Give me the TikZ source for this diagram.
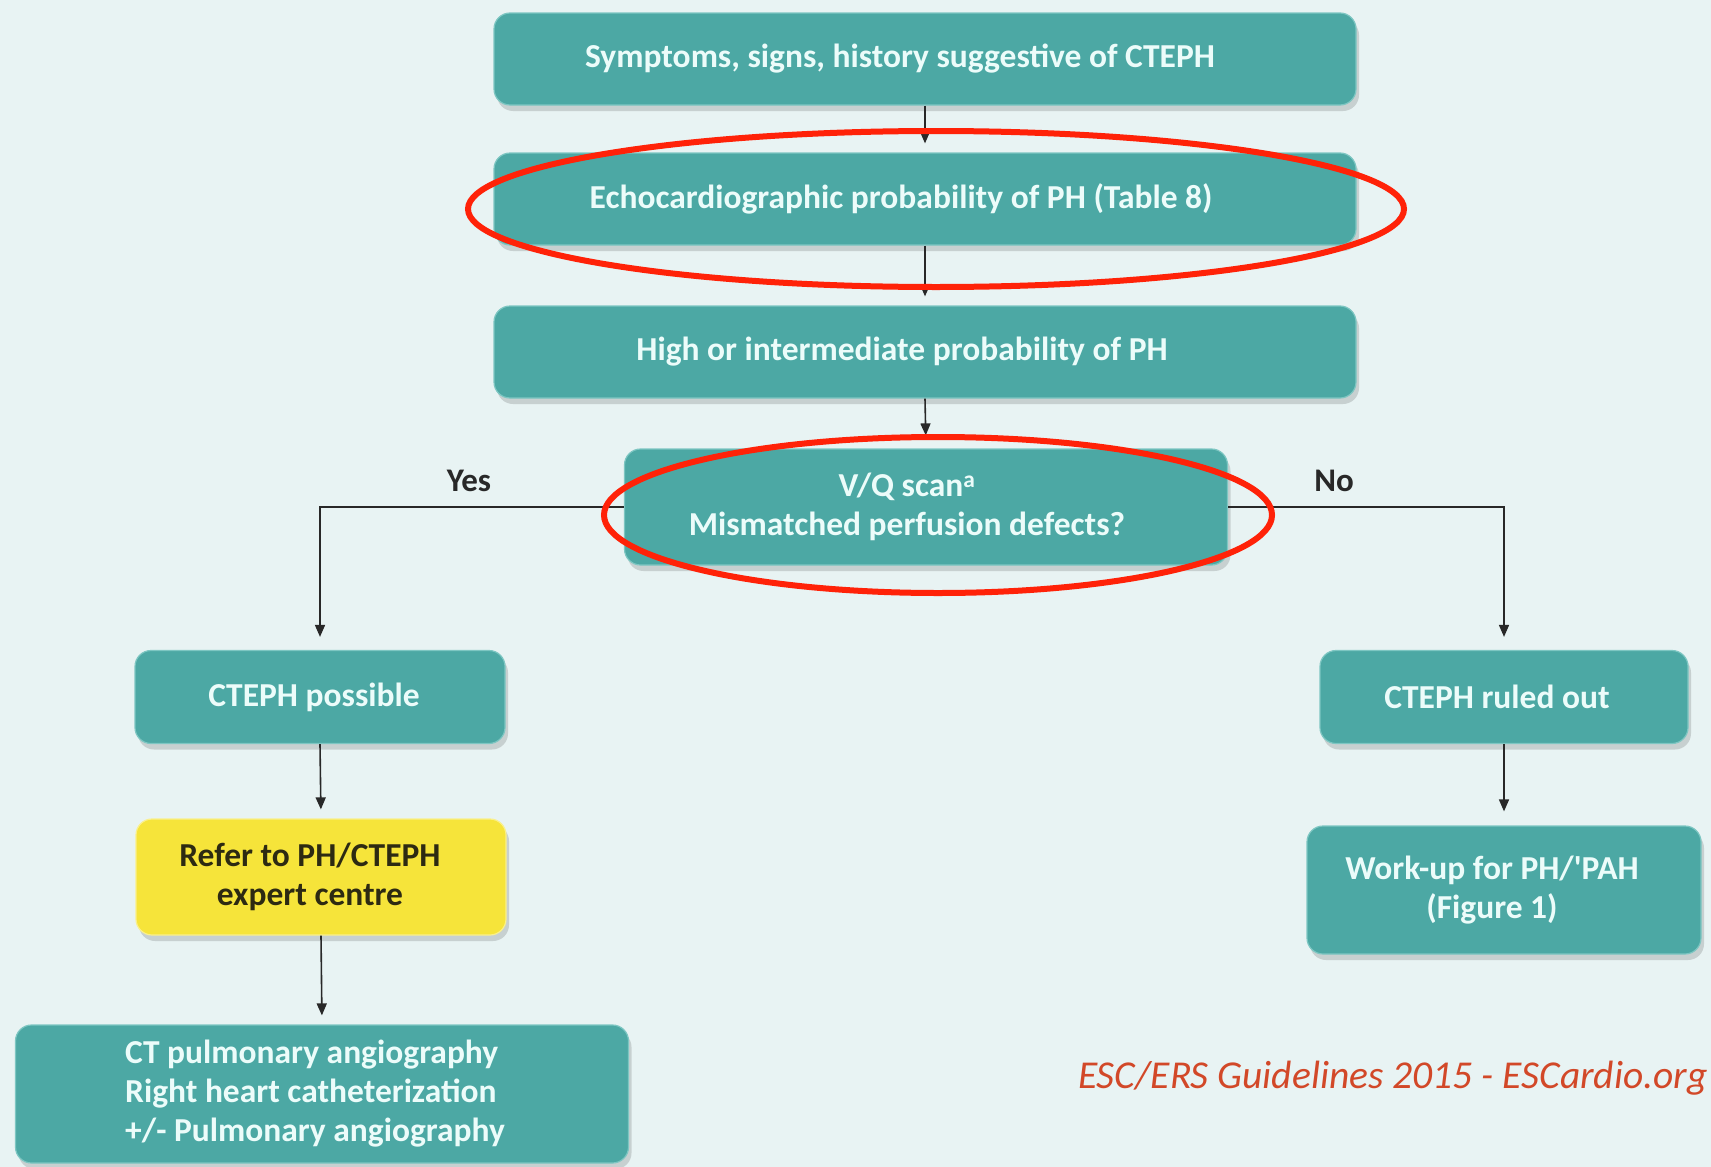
\documentclass[tikz,border=0pt]{standalone}
\usepackage{fontspec}
\setmainfont{Carlito}
\usetikzlibrary{arrows.meta,shadows}
\definecolor{bg}{RGB}{232,243,243}
\definecolor{tealbox}{RGB}{76,168,164}
\definecolor{tealrim}{RGB}{125,198,194}
\definecolor{boxtxt}{RGB}{236,252,250}
\definecolor{yel}{RGB}{246,228,58}
\definecolor{yelrim}{RGB}{250,240,140}
\definecolor{ytxt}{RGB}{45,42,18}
\definecolor{arr}{RGB}{40,40,40}
\definecolor{hl}{RGB}{255,34,8}
\definecolor{wmark}{RGB}{210,72,40}
\newcommand{\lft}[1]{\hspace*{#1}}
\begin{document}
\begin{tikzpicture}[x=1pt,y=-1pt,
  box/.style={rectangle, rounded corners=16pt, fill=tealbox, draw=tealrim, line width=1.2pt,
    text=boxtxt, font=\fontsize{33.5}{39}\selectfont\bfseries, align=center, inner sep=0pt,
    drop shadow={shadow xshift=3pt, shadow yshift=-6pt, opacity=0.14, fill=black}},
  ybox/.style={box, fill=yel, draw=yelrim, text=ytxt},
  conn/.style={draw=arr, line width=1.6pt, -{Triangle[width=10pt,length=12pt]}, shorten >=9pt},
  lbl/.style={text=arr, font=\fontsize{33}{38}\selectfont\bfseries, inner sep=0pt},
  ring/.style={draw=hl, line width=6pt}
]
\fill[bg] (0,0) rectangle (1711,1167);
\useasboundingbox (0,0) rectangle (1711,1167);

\node[box, minimum width=862pt, minimum height=92pt] (b1) at (925,59) {Symptoms, signs, history suggestive of CTEPH\lft{50pt}};
\node[box, minimum width=862pt, minimum height=92pt] (b2) at (925,199) {Echocardiographic probability of PH (Table 8)\lft{48pt}};
\node[box, minimum width=862pt, minimum height=92pt] (b3) at (925,352) {High or intermediate probability of PH\lft{46pt}};
\node[box, minimum width=603pt, minimum height=116pt] (b4) at (926,507) {V/Q scan\textsuperscript{a}\lft{38pt}\\Mismatched perfusion defects?\lft{38pt}};
\node[box, minimum width=370pt, minimum height=93pt] (b5) at (320,697) {CTEPH possible\lft{12pt}};
\node[ybox, minimum width=370pt, minimum height=116pt] (b6) at (321,877) {Refer to PH/CTEPH\lft{22pt}\\expert centre\lft{22pt}};
\node[box, minimum width=613pt, minimum height=138pt, align=left] (b7) at (322,1094) {CT pulmonary angiography\\Right heart catheterization\\+/- Pulmonary angiography\lft{14pt}};
\node[box, minimum width=368pt, minimum height=93pt] (b8) at (1504,697) {CTEPH ruled out\lft{14pt}};
\node[box, minimum width=394pt, minimum height=128pt] (b9) at (1504,890) {Work-up for PH/\textquotesingle PAH\lft{24pt}\\(Figure 1)\lft{24pt}};

\draw[conn] (b1.south) -- (b2.north);
\draw[conn] (b2.south) -- (b3.north);
\draw[conn, shorten >=13pt] (b3.south) -- (b4.north);
\draw[conn, shorten >=13pt] (b4.west) -| (b5.north);
\draw[conn, shorten >=13pt] (b4.east) -| (b8.north);
\draw[conn] (b5.south) -- (b6.north);
\draw[conn] (b6.south) -- (b7.north);
\draw[conn, shorten >=14pt] (b8.south) -- (b9.north);

\node[lbl] (yes) at (469,481) {Yes};
\node[lbl] (no) at (1334,481) {No};

\draw[ring] (936,209) ellipse [x radius=468, y radius=78];
\draw[ring] (938,515) ellipse [x radius=334, y radius=78];

\node[anchor=base east, inner sep=0pt, text=wmark, font=\fontsize{39.5}{44}\selectfont\itshape] (wm) at (1708,1088) {ESC/ERS Guidelines 2015 - ESCardio.org};
\end{tikzpicture}
\end{document}
